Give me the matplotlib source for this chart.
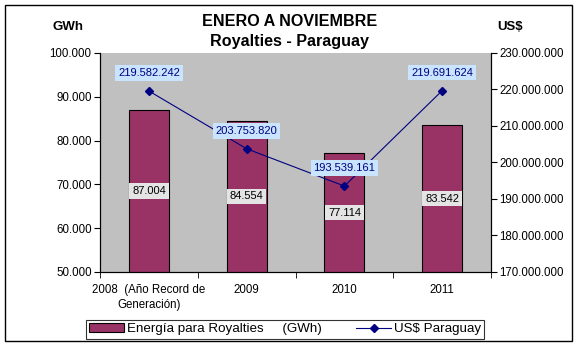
import matplotlib
matplotlib.use("Agg")
import matplotlib.pyplot as plt
from matplotlib.lines import Line2D
from matplotlib.patches import Patch, Rectangle
from matplotlib.ticker import FuncFormatter, FixedLocator

plt.rcParams["font.family"] = ["Liberation Sans", "DejaVu Sans"]

categories = ["2008  (Año Record de\nGeneración)", "2009", "2010", "2011"]
energia_gwh = [87004, 84554, 77114, 83542]
usd_paraguay = [219582242, 203753820, 193539161, 219691624]

BAR_COLOR = "#993366"
LINE_COLOR = "#000080"
PLOT_BG = "#c0c0c0"


def dots(v, _pos=None):
    return f"{v:,.0f}".replace(",", ".")


fig = plt.figure(figsize=(5.76, 3.46), dpi=100)
fig.patches.append(Rectangle((5 / 576, 5 / 346), 567 / 576, 336 / 346,
                             transform=fig.transFigure, fill=False,
                             edgecolor="black", linewidth=1.0))

ax = fig.add_axes([0.1736, 0.2139, 0.679, 0.633])
ax.set_facecolor(PLOT_BG)
x = list(range(len(categories)))
ax.bar(x, [v / 1000 for v in energia_gwh], width=0.41,
       color=BAR_COLOR, edgecolor="black", linewidth=0.8, zorder=2)
ax.set_xlim(-0.5, len(categories) - 0.5)
ax.set_ylim(50, 100)
ax.yaxis.set_major_locator(FixedLocator([50, 60, 70, 80, 90, 100]))
ax.yaxis.set_major_formatter(FuncFormatter(lambda v, p: f"{v:.3f}"))
ax.set_xticks(x)
ax.set_xticklabels(categories, fontsize=8.3, linespacing=1.3)
ax.tick_params(axis="x", length=0, pad=9)
ax.set_xticks([i - 0.5 for i in range(len(categories) + 1)], minor=True)
ax.tick_params(axis="x", which="minor", length=4, direction="out")
ax.tick_params(axis="y", labelsize=8.3, length=4, direction="out", pad=2)
ax.spines["top"].set_visible(False)

for xi, v in zip(x, energia_gwh):
    ax.text(xi, (v / 1000 + 50) / 2, dots(v), ha="center", va="center",
            fontsize=8, color="black", zorder=4,
            bbox=dict(boxstyle="square,pad=0.25", facecolor="#e4e4e4",
                      edgecolor="none"))

ax2 = ax.twinx()
ax2.plot(x, usd_paraguay, color=LINE_COLOR, linewidth=0.8, marker="D",
         markersize=4, zorder=3)
ax2.set_ylim(170e6, 230e6)
ax2.yaxis.set_major_locator(FixedLocator([170e6 + 10e6 * i for i in range(7)]))
ax2.yaxis.set_major_formatter(FuncFormatter(dots))
ax2.tick_params(axis="y", labelsize=8.3, length=4, direction="out", pad=2)
ax2.spines["top"].set_visible(False)

for xi, v in zip(x, usd_paraguay):
    ax2.annotate(dots(v), xy=(xi, v), xytext=(0, 13), textcoords="offset points",
                 ha="center", va="center", fontsize=8, color=LINE_COLOR,
                 zorder=5,
                 bbox=dict(boxstyle="square,pad=0.25", facecolor="#c8e4ff",
                           edgecolor="none"))

fig.text(0.503, 0.939, "ENERO A NOVIEMBRE", ha="center", va="center",
         fontsize=11.6, fontweight="bold")
fig.text(0.503, 0.879, "Royalties - Paraguay", ha="center", va="center",
         fontsize=11.6, fontweight="bold")
fig.text(0.118, 0.922, "GWh", ha="center", va="center", fontsize=9.5,
         fontweight="bold")
fig.text(0.885, 0.922, "US$", ha="center", va="center", fontsize=9.5,
         fontweight="bold")

handles = [Patch(facecolor=BAR_COLOR, edgecolor="black", linewidth=0.8),
           Line2D([], [], color=LINE_COLOR, marker="D", markersize=4,
                  linewidth=0.8)]
labels = ["Energía para Royalties     (GWh)", "US$ Paraguay"]
leg = fig.legend(handles, labels, loc="center", ncol=2,
                 bbox_to_anchor=(0.495, 0.049), fontsize=9.6, frameon=True,
                 fancybox=False, edgecolor="black", borderpad=0.25,
                 handlelength=2.6, columnspacing=2.6, handletextpad=0.2,
                 borderaxespad=0)
leg.get_frame().set_linewidth(0.8)

fig.savefig("out.png", dpi=100)
